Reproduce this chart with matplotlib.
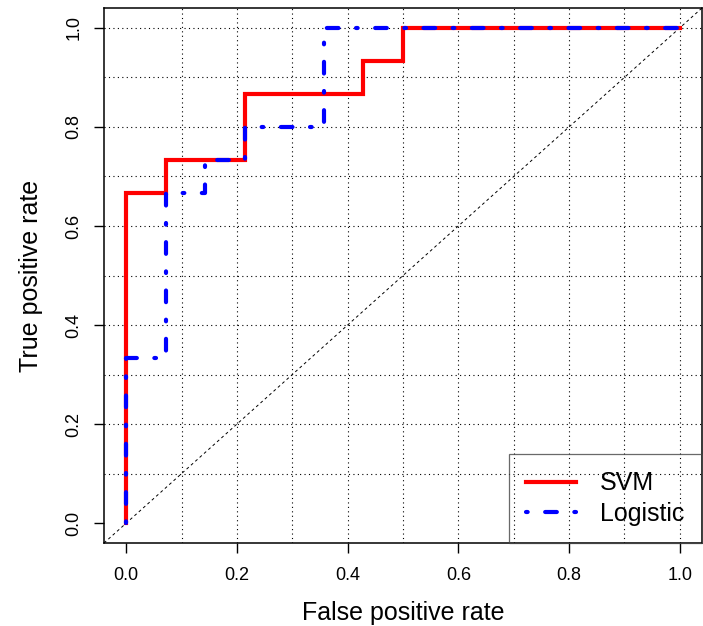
import matplotlib
matplotlib.use("Agg")
import matplotlib.pyplot as plt
import numpy as np

# ROC step data (test set: 14 negatives, 15 positives)
svm_fpr = [0, 0, 1/14, 1/14, 3/14, 3/14, 6/14, 6/14, 7/14, 7/14, 1.0]
svm_tpr = [0, 10/15, 10/15, 11/15, 11/15, 13/15, 13/15, 14/15, 14/15, 1.0, 1.0]
log_fpr = [0, 0, 1/14, 1/14, 2/14, 2/14, 3/14, 3/14, 5/14, 5/14, 1.0]
log_tpr = [0, 5/15, 5/15, 10/15, 10/15, 11/15, 11/15, 12/15, 12/15, 1.0, 1.0]
series_names = ["SVM", "Logistic"]
tick_vals = [0.0, 0.2, 0.4, 0.6, 0.8, 1.0]
grid_vals = [0.1, 0.2, 0.3, 0.4, 0.5, 0.6, 0.7, 0.8, 0.9, 1.0]

plt.rcParams['font.family'] = ['Liberation Sans', 'DejaVu Sans']

fig = plt.figure(figsize=(7.03, 6.26), dpi=100)
ax = fig.add_axes([104/703, 1 - 543/626, (702-104)/703, (543-8)/626])
ax.set_xlim(-0.04, 1.04)
ax.set_ylim(-0.04, 1.04)

for g in grid_vals:
    ax.axvline(g, color='black', lw=0.8, linestyle=(0, (1, 3)), zorder=1)
    ax.axhline(g, color='black', lw=0.8, linestyle=(0, (1, 3)), zorder=1)

ax.axline((0, 0), (1, 1), color='black', lw=0.7, linestyle=(0, (3, 3)), zorder=1)

ax.plot(svm_fpr, svm_tpr, color='red', lw=3, label=series_names[0], zorder=3,
        solid_joinstyle='miter')
ax.plot(log_fpr, log_tpr, color='blue', lw=3, label=series_names[1], zorder=4,
        linestyle=(0, (0.4, 4.2, 2.8, 4.2)), dash_capstyle='round')

ax.set_xticks(tick_vals)
ax.set_yticks(tick_vals)
ax.set_xticklabels([f"{v:.1f}" for v in tick_vals])
ax.set_yticklabels([f"{v:.1f}" for v in tick_vals], rotation=90, va='center')
ax.tick_params(direction='out', length=7.5, width=1, labelsize=13, color='black')
ax.tick_params(axis='x', pad=10)
ax.tick_params(axis='y', pad=8)
for s in ax.spines.values():
    s.set_linewidth(1.1)
    s.set_color('black')

ax.set_xlabel("False positive rate", fontsize=18, labelpad=12)
ax.set_ylabel("True positive rate", fontsize=18, labelpad=16)

leg = ax.legend(loc='lower right', fontsize=18, frameon=True, fancybox=False,
                borderaxespad=0, handlelength=2.0, handletextpad=0.95,
                borderpad=0.7, labelspacing=0.25)
leg.get_frame().set_edgecolor('#444444')
leg.get_frame().set_facecolor('none')
leg.get_frame().set_linewidth(0.9)

fig.savefig("out.png", dpi=100)
